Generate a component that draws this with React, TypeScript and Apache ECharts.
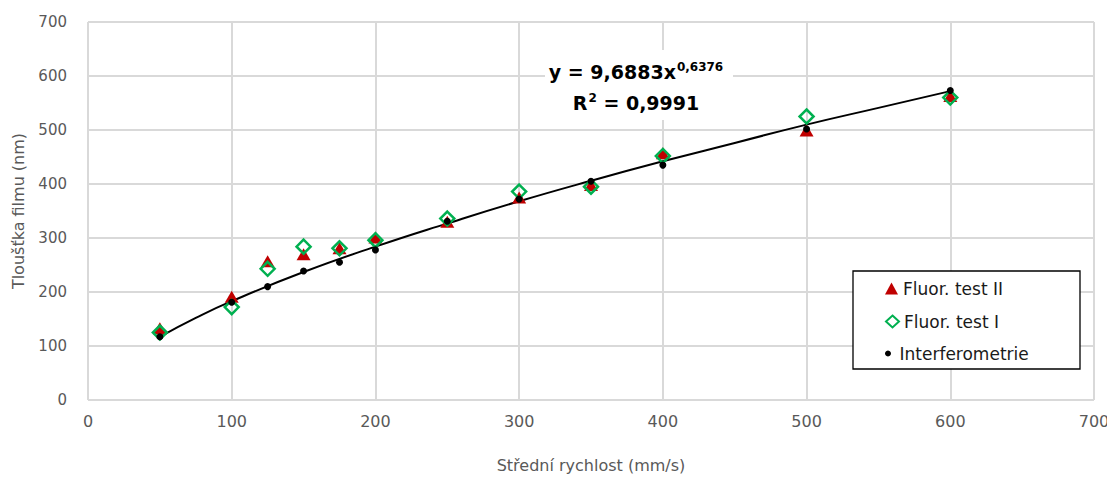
import React, { useEffect, useRef } from "react";
import * as echarts from "echarts";

const speeds = [50, 100, 125, 150, 175, 200, 250, 300, 350, 400, 500, 600];
const fluorII = [133, 191, 257, 270, 281, 301, 330, 375, 398, 457, 499, 563];
const fluorI = [125, 172, 243, 284, 281, 296, 336, 386, 395, 452, 525, 560];
const interf = [117, 181, 210, 239, 255, 278, 331, 372, 405, 435, 502, 573];

const trendX = [50, 75, 100, 150, 200, 250, 300, 350, 400, 450, 500, 550, 600];
const trendY = [117, 152, 183, 237, 284, 327, 368, 406, 442, 476, 510, 541, 572];

const xTicks = [0, 100, 200, 300, 400, 500, 600, 700];
const yTicks = [0, 100, 200, 300, 400, 500, 600, 700];

const FONT = "'DejaVu Sans', 'Open Sans', sans-serif";

export default function App() {
  const ref = useRef<HTMLDivElement>(null);
  useEffect(() => {
    if (!ref.current) return;
    const chart = echarts.init(ref.current, undefined, { renderer: "svg" });
    const pairs = (ys: number[]) => speeds.map((x, i) => [x, ys[i]]);
    const axisCommon = {
      type: "value" as const,
      min: xTicks[0],
      max: xTicks[xTicks.length - 1],
      interval: 100,
      axisLine: { show: false },
      axisTick: { show: false },
      splitLine: { show: true, lineStyle: { color: "#d9d9d9", width: 2 } },
    };
    const legendBase = {
      orient: "vertical" as const,
      padding: 0,
      itemWidth: 13,
      textStyle: { fontFamily: FONT, fontSize: 17, color: "#1a1a1a" },
      selectedMode: false,
    };
    const eqRich = {
      a: { fontFamily: FONT, fontSize: 19, fontWeight: "bold", fill: "#000", lineHeight: 26 },
      b: { fontFamily: FONT, fontSize: 12, fontWeight: "bold", fill: "#000", lineHeight: 12, verticalAlign: "top", padding: [2, 0, 0, 1] },
    };
    chart.setOption({
      animation: false,
      grid: { left: 88, right: 21, top: 22, bottom: 82, containLabel: false },
      xAxis: {
        ...axisCommon,
        name: "Střední rychlost (mm/s)",
        nameLocation: "middle",
        nameGap: 57,
        nameTextStyle: { fontFamily: FONT, fontSize: 16, color: "#595959" },
        axisLabel: { margin: 13, fontFamily: FONT, fontSize: 16, color: "#595959" },
      },
      yAxis: {
        ...axisCommon,
        min: yTicks[0],
        max: yTicks[yTicks.length - 1],
        name: "Tloušťka filmu (nm)",
        nameLocation: "middle",
        nameGap: 62,
        nameTextStyle: { fontFamily: FONT, fontSize: 16, color: "#595959" },
        axisLabel: { margin: 21, fontFamily: FONT, fontSize: 15, color: "#595959" },
      },
      legend: [
        { ...legendBase, left: 885, top: 280, itemHeight: 12, data: [{ name: "Fluor. test II", icon: "triangle" }] },
        { ...legendBase, left: 885, top: 313, itemHeight: 12, data: [{ name: "Fluor. test I", icon: "diamond" }] },
        { ...legendBase, left: 885, top: 345, itemHeight: 6, data: [{ name: "Interferometrie", icon: "circle" }] },
      ],
      graphic: [
        {
          type: "rect",
          z: 3,
          shape: { x: 853, y: 271, width: 227, height: 98 },
          style: { fill: "#fff", stroke: "#000", lineWidth: 1.3 },
        },
        {
          type: "rect",
          z: 3,
          shape: { x: 545, y: 50, width: 188, height: 70 },
          style: { fill: "#fff" },
        },
        {
          type: "text",
          z: 4,
          x: 636,
          y: 72,
          style: { text: "{a|y = 9,6883x}{b|0,6376}", align: "center", verticalAlign: "middle", rich: eqRich },
        },
        {
          type: "text",
          z: 4,
          x: 636,
          y: 103,
          style: { text: "{a|R}{b|2}{a| = 0,9991}", align: "center", verticalAlign: "middle", rich: eqRich },
        },
      ],
      series: [
        {
          name: "trend",
          type: "line",
          data: trendX.map((x, i) => [x, trendY[i]]),
          smooth: true,
          showSymbol: false,
          symbol: "none",
          lineStyle: { color: "#000", width: 2 },
          z: 2,
          silent: true,
        },
        {
          name: "Fluor. test II",
          type: "scatter",
          data: pairs(fluorII),
          symbol: "triangle",
          symbolSize: [14, 12],
          itemStyle: { color: "#C00000", opacity: 1 },
          z: 3,
        },
        {
          name: "Fluor. test I",
          type: "scatter",
          data: pairs(fluorI),
          symbol: "diamond",
          symbolSize: 14,
          itemStyle: { color: "rgba(255,255,255,0)", borderColor: "#00B050", borderWidth: 2.5, opacity: 1 },
          z: 4,
        },
        {
          name: "Interferometrie",
          type: "scatter",
          data: pairs(interf),
          symbol: "circle",
          symbolSize: 7,
          itemStyle: { color: "#000", opacity: 1 },
          z: 5,
        },
      ],
    });
    return () => chart.dispose();
  }, []);
  return <div ref={ref} style={{ width: 1115, height: 482, margin: -8 }} />;
}
